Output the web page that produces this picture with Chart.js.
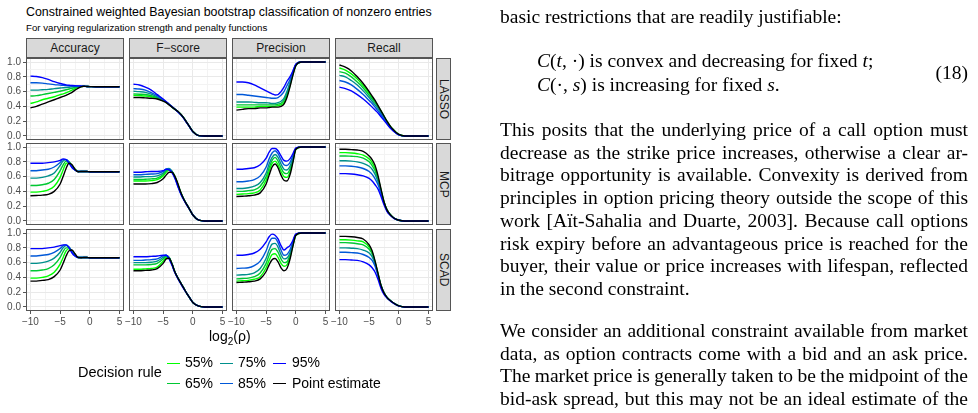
<!DOCTYPE html>
<html>
<head>
<meta charset="utf-8">
<script src="https://cdn.jsdelivr.net/npm/chart.js@4.4.1/dist/chart.umd.min.js"></script>
<style>
  body { margin: 0; background: #fff; }
  #page { position: relative; width: 978px; height: 413px; overflow: hidden; font-family: "Liberation Sans", Arial, sans-serif; }
  canvas { position: absolute; left: 0; top: 0; }
  .abs { position: absolute; white-space: nowrap; }
  .strip { position: absolute; box-sizing: border-box; background: #d9d9d9; border: 1px solid #555; color: #1a1a1a; font-size: 12px; display: flex; align-items: center; justify-content: center; }
  .strip.side { writing-mode: vertical-rl; }
  .tx { position: absolute; left: 500px; white-space: nowrap; font-family: "Liberation Serif", "Times New Roman", serif; font-size: 19.5px; line-height: 22px; color: #000; }
  .key { position: absolute; height: 0; border-top: 1.5px solid #000; }
</style>
</head>
<body>
<div id="page">
  <div class="abs" style="left:26px;top:5px;font-size:12.4px;color:#000">Constrained weighted Bayesian bootstrap classification of nonzero entries</div>
  <div class="abs" style="left:26px;top:22px;font-size:9.7px;color:#000">For varying regularization strength and penalty functions</div>
  <div id="strips"></div>
  <div id="charts"></div>
  <div class="abs" style="left:209px;top:328px;font-size:14px;color:#000">log<sub style="font-size:10px">2</sub>(ρ)</div>
  <div id="legend"></div>

  <div class="tx" style="top:6px">basic restrictions that are readily justifiable:</div>
  <div class="tx" style="top:50px;left:537px"><i>C</i>(<i>t</i>, ·) is convex and decreasing for fixed <i>t</i>;</div>
  <div class="tx" style="top:74px;left:537px"><i>C</i>(·, <i>s</i>) is increasing for fixed <i>s</i>.</div>
  <div class="tx" style="top:62px;left:auto;right:10px">(18)</div>
  <div class="tx just" style="top:119px">This posits that the underlying price of a call option must</div>
  <div class="tx just" style="top:141.7px">decrease as the strike price increases, otherwise a clear ar-</div>
  <div class="tx just" style="top:164.4px">bitrage opportunity is available. Convexity is derived from</div>
  <div class="tx just" style="top:187.1px">principles in option pricing theory outside the scope of this</div>
  <div class="tx just" style="top:209.8px">work [Aït-Sahalia and Duarte, 2003]. Because call options</div>
  <div class="tx just" style="top:232.5px">risk expiry before an advantageous price is reached for the</div>
  <div class="tx just" style="top:255.2px">buyer, their value or price increases with lifespan, reflected</div>
  <div class="tx" style="top:277.9px">in the second constraint.</div>
  <div class="tx just" style="top:320px">We consider an additional constraint available from market</div>
  <div class="tx just" style="top:342.7px">data, as option contracts come with a bid and an ask price.</div>
  <div class="tx just" style="top:365.4px">The market price is generally taken to be the midpoint of the</div>
  <div class="tx just" style="top:388.1px">bid-ask spread, but this may not be an ideal estimate of the</div>
</div>

<script>
// x positions (log2 rho) shared by every curve
const xs = [-10, -9, -8, -7, -6, -5, -4.5, -4, -3.5, -3, -2.5, -2, -1.5, -1, -0.5, 0, 1, 2, 5];

const rules = ['55%', '65%', '75%', '85%', '95%', 'Point estimate'];
const ruleColors = ['#00ff00', '#00c832', '#00908c', '#0058d8', '#0000ff', '#000000'];
const metrics = ['Accuracy', 'F\u2212score', 'Precision', 'Recall'];
const penalties = ['LASSO', 'MCP', 'SCAD'];

const xTicks = [-10, -7.5, -5, -2.5, 0, 2.5, 5];
const yTicks = [0, 0.1, 0.2, 0.3, 0.4, 0.5, 0.6, 0.7, 0.8, 0.9, 1.0];

// each panel: rows are 55%, 65%, 75%, 85%, 95%, point estimate
const lassoAccuracy = [
  [.44,.46,.49,.51,.53,.56,.57,.585,.60,.62,.64,.655,.668,.672,.67,.668,.665,.665,.665],
  [.54,.545,.56,.575,.59,.605,.615,.625,.635,.645,.655,.665,.67,.672,.67,.668,.665,.665,.665],
  [.62,.62,.625,.63,.64,.648,.652,.656,.66,.665,.668,.67,.672,.672,.67,.668,.665,.665,.665],
  [.72,.72,.715,.705,.695,.688,.684,.681,.679,.677,.676,.675,.674,.672,.67,.668,.665,.665,.665],
  [.81,.805,.79,.765,.735,.71,.70,.692,.686,.682,.679,.677,.675,.673,.67,.668,.665,.665,.665],
  [.38,.40,.43,.46,.49,.52,.535,.55,.57,.59,.62,.645,.665,.672,.67,.668,.665,.665,.665]
];
const lassoFscore = [
  [.55,.545,.54,.53,.51,.475,.455,.425,.39,.36,.33,.29,.24,.18,.12,.06,.005,0,0],
  [.57,.565,.56,.545,.52,.48,.455,.425,.39,.36,.33,.29,.24,.18,.12,.06,.005,0,0],
  [.605,.60,.59,.565,.53,.485,.46,.43,.395,.36,.33,.29,.24,.18,.12,.06,.005,0,0],
  [.64,.635,.62,.585,.545,.49,.46,.43,.395,.36,.325,.285,.235,.18,.12,.06,.005,0,0],
  [.70,.69,.66,.62,.56,.50,.465,.43,.395,.36,.325,.285,.235,.175,.115,.055,.005,0,0],
  [.52,.52,.515,.51,.50,.47,.45,.42,.39,.36,.33,.29,.24,.18,.12,.06,.005,0,0]
];
const lassoPrecision = [
  [.39,.39,.39,.39,.40,.40,.40,.40,.40,.41,.42,.45,.54,.68,.83,.95,1,1,1],
  [.42,.42,.42,.42,.42,.42,.42,.42,.42,.43,.44,.48,.57,.70,.84,.96,1,1,1],
  [.46,.46,.46,.455,.45,.45,.445,.44,.44,.45,.47,.51,.60,.72,.85,.96,1,1,1],
  [.56,.56,.55,.54,.53,.52,.515,.51,.51,.52,.55,.60,.68,.76,.87,.97,1,1,1],
  [.73,.73,.72,.69,.65,.61,.59,.57,.555,.56,.60,.66,.74,.80,.88,.97,1,1,1],
  [.35,.36,.37,.37,.38,.38,.385,.39,.39,.39,.40,.43,.52,.66,.82,.95,1,1,1]
];
const lassoRecall = [
  [.92,.89,.84,.77,.68,.58,.52,.47,.40,.34,.27,.20,.14,.09,.05,.02,0,0,0],
  [.87,.85,.80,.73,.65,.55,.50,.45,.39,.33,.26,.19,.13,.09,.05,.02,0,0,0],
  [.82,.80,.75,.69,.61,.52,.47,.42,.37,.31,.25,.18,.13,.08,.045,.015,0,0,0],
  [.75,.73,.69,.63,.56,.48,.44,.39,.34,.29,.23,.17,.12,.08,.04,.015,0,0,0],
  [.66,.64,.61,.56,.50,.43,.39,.35,.31,.26,.21,.16,.11,.07,.04,.015,0,0,0],
  [.96,.93,.88,.80,.71,.60,.54,.48,.41,.34,.27,.20,.14,.09,.05,.02,0,0,0]
];

const mcpAccuracy = [
  [.39,.39,.40,.42,.47,.59,.69,.78,.79,.75,.70,.67,.67,.67,.67,.665,.665,.665,.665],
  [.48,.48,.49,.51,.56,.68,.76,.81,.80,.74,.70,.67,.67,.67,.67,.665,.665,.665,.665],
  [.58,.58,.59,.61,.65,.75,.81,.83,.80,.74,.69,.67,.67,.67,.67,.665,.665,.665,.665],
  [.68,.68,.69,.70,.73,.79,.83,.83,.79,.73,.69,.67,.67,.67,.67,.665,.665,.665,.665],
  [.78,.78,.78,.79,.80,.82,.84,.83,.78,.72,.69,.67,.67,.67,.67,.665,.665,.665,.665],
  [.34,.345,.35,.36,.40,.50,.60,.71,.78,.76,.70,.665,.67,.67,.67,.665,.665,.665,.665]
];
const mcpFscore = [
  [.54,.54,.54,.545,.56,.61,.66,.69,.67,.60,.49,.38,.29,.22,.15,.08,.01,0,0],
  [.56,.56,.565,.57,.58,.63,.68,.70,.67,.59,.49,.37,.29,.22,.15,.08,.01,0,0],
  [.595,.595,.60,.60,.61,.65,.70,.71,.67,.59,.48,.37,.29,.22,.15,.08,.01,0,0],
  [.625,.625,.63,.635,.64,.67,.70,.70,.66,.58,.47,.37,.29,.22,.15,.08,.01,0,0],
  [.66,.66,.665,.67,.67,.68,.70,.69,.65,.57,.46,.36,.28,.21,.15,.08,.01,0,0],
  [.50,.50,.50,.505,.52,.57,.62,.66,.66,.60,.50,.38,.29,.22,.15,.08,.01,0,0]
];
const mcpPrecision = [
  [.36,.365,.37,.38,.42,.55,.67,.78,.81,.76,.67,.60,.59,.66,.81,.97,1,1,1],
  [.40,.40,.41,.42,.47,.60,.72,.82,.86,.81,.72,.65,.64,.70,.83,.97,1,1,1],
  [.44,.44,.45,.47,.52,.65,.77,.86,.90,.86,.77,.70,.69,.74,.85,.98,1,1,1],
  [.53,.53,.54,.56,.61,.73,.84,.92,.95,.91,.83,.76,.75,.79,.88,.98,1,1,1],
  [.70,.70,.71,.72,.76,.85,.93,.98,.98,.95,.88,.82,.81,.84,.91,.99,1,1,1],
  [.33,.335,.34,.35,.38,.50,.62,.73,.77,.72,.62,.55,.54,.62,.79,.97,1,1,1]
];
const mcpRecall = [
  [.925,.925,.92,.91,.89,.84,.79,.71,.58,.42,.26,.15,.09,.05,.025,.01,0,0,0],
  [.88,.88,.875,.87,.85,.80,.75,.68,.56,.41,.25,.15,.09,.05,.025,.01,0,0,0],
  [.815,.815,.81,.80,.78,.74,.70,.63,.53,.39,.25,.15,.09,.05,.025,.01,0,0,0],
  [.745,.745,.74,.73,.71,.67,.63,.57,.49,.37,.24,.14,.085,.05,.025,.01,0,0,0],
  [.64,.64,.635,.625,.61,.575,.54,.49,.43,.33,.22,.13,.08,.045,.02,.01,0,0,0],
  [.97,.97,.965,.96,.94,.88,.83,.75,.61,.43,.26,.15,.09,.05,.025,.01,0,0,0]
];

const scadAccuracy = [
  [.39,.39,.40,.42,.47,.58,.67,.76,.79,.76,.71,.67,.67,.67,.67,.665,.665,.665,.665],
  [.49,.49,.50,.52,.57,.67,.75,.80,.80,.75,.70,.67,.67,.67,.67,.665,.665,.665,.665],
  [.59,.59,.60,.62,.66,.74,.80,.83,.81,.75,.70,.67,.67,.67,.67,.665,.665,.665,.665],
  [.69,.69,.70,.71,.74,.79,.83,.84,.81,.74,.69,.67,.67,.67,.67,.665,.665,.665,.665],
  [.79,.79,.79,.80,.81,.83,.84,.84,.80,.73,.69,.67,.67,.67,.67,.665,.665,.665,.665],
  [.35,.35,.36,.37,.41,.50,.59,.69,.76,.77,.72,.67,.665,.67,.67,.665,.665,.665,.665]
];
const scadFscore = [
  [.51,.51,.515,.52,.54,.62,.67,.67,.58,.47,.39,.32,.25,.18,.12,.06,.01,0,0],
  [.57,.57,.57,.575,.59,.65,.69,.67,.58,.47,.39,.32,.25,.18,.12,.06,.01,0,0],
  [.60,.60,.60,.605,.62,.67,.70,.67,.58,.47,.39,.32,.25,.18,.12,.06,.01,0,0],
  [.63,.63,.635,.64,.65,.69,.70,.66,.57,.47,.39,.32,.25,.18,.12,.06,.01,0,0],
  [.68,.68,.68,.685,.69,.70,.70,.65,.56,.46,.38,.31,.24,.18,.12,.06,.01,0,0],
  [.49,.49,.495,.50,.52,.59,.65,.66,.58,.47,.39,.32,.25,.18,.12,.06,.01,0,0]
];
const scadPrecision = [
  [.35,.355,.36,.375,.41,.53,.63,.71,.72,.67,.59,.55,.57,.67,.83,.97,1,1,1],
  [.38,.385,.39,.41,.46,.59,.70,.78,.79,.74,.65,.60,.61,.70,.84,.97,1,1,1],
  [.43,.435,.44,.46,.52,.66,.77,.85,.86,.81,.71,.65,.66,.73,.86,.98,1,1,1],
  [.52,.525,.53,.56,.62,.76,.87,.93,.93,.87,.77,.70,.71,.77,.88,.98,1,1,1],
  [.70,.70,.71,.73,.78,.88,.95,.985,.97,.92,.83,.77,.80,.83,.90,.99,1,1,1],
  [.33,.335,.34,.35,.38,.48,.57,.64,.655,.61,.53,.49,.52,.64,.82,.97,1,1,1]
];
const scadRecall = [
  [.91,.91,.905,.895,.88,.81,.74,.61,.45,.29,.19,.13,.09,.06,.035,.015,0,0,0],
  [.87,.87,.865,.855,.84,.78,.72,.60,.44,.29,.19,.13,.09,.06,.035,.015,0,0,0],
  [.80,.80,.795,.79,.77,.73,.68,.58,.43,.29,.19,.13,.09,.06,.035,.015,0,0,0],
  [.74,.74,.735,.73,.71,.67,.63,.55,.42,.28,.185,.13,.09,.06,.035,.015,0,0,0],
  [.64,.64,.635,.63,.61,.57,.53,.47,.37,.25,.17,.12,.085,.055,.03,.01,0,0,0],
  [.955,.955,.95,.94,.92,.84,.76,.62,.45,.29,.19,.13,.09,.06,.035,.015,0,0,0]
];

const grid = [
  [lassoAccuracy, lassoFscore, lassoPrecision, lassoRecall],
  [mcpAccuracy, mcpFscore, mcpPrecision, mcpRecall],
  [scadAccuracy, scadFscore, scadPrecision, scadRecall]
];

// layout of the facet grid (pixels)
const colLeft = [26, 129, 232, 335];
const rowTop = [58, 143, 229];
const panelW = 98, panelH = 82;
const W = 978, H = 413;
const yAxisW = 26, xAxisH = 22;

const isMajorX = v => Math.abs(v % 5) < 1e-9;
const isMajorY = v => Math.abs(Math.round(v * 10) % 2) === 0;

const framePlugin = {
  id: 'frame',
  afterDraw(chart) {
    const a = chart.chartArea, ctx = chart.ctx;
    ctx.save();
    ctx.strokeStyle = '#555';
    ctx.lineWidth = 1;
    ctx.strokeRect(a.left + 0.5, a.top + 0.5, a.right - a.left - 1, a.bottom - a.top - 1);
    ctx.restore();
  }
};

function makePanel(r, c) {
  const cv = document.createElement('canvas');
  cv.width = W; cv.height = H;
  document.getElementById('charts').appendChild(cv);
  const showY = c === 0, showX = r === 2;
  const datasets = grid[r][c].map((vals, i) => ({
    label: rules[i],
    data: vals.map((v, j) => ({ x: xs[j], y: v })),
    borderColor: ruleColors[i],
    borderWidth: 1.4,
    pointRadius: 0,
    fill: false,
    cubicInterpolationMode: 'monotone',
    order: 5 - i
  }));
  const yw = showY ? yAxisW : 0, xh = showX ? xAxisH : 0;
  new Chart(cv, {
    type: 'line',
    data: { datasets },
    plugins: [framePlugin],
    options: {
      responsive: false,
      animation: false,
      events: [],
      layout: { padding: {
        left: colLeft[c] - yw, top: rowTop[r],
        right: W - colLeft[c] - panelW, bottom: H - rowTop[r] - panelH - xh
      } },
      plugins: { legend: { display: false }, tooltip: { enabled: false } },
      scales: {
        x: {
          type: 'linear', min: -10.75, max: 5.75, bounds: 'data',
          afterBuildTicks: s => { s.ticks = xTicks.map(v => ({ value: v })); },
          afterFit: s => { s.height = xh; },
          border: { display: false },
          grid: {
            color: ctx => isMajorX(ctx.tick.value) ? '#e9e9e9' : '#f3f3f3',
            lineWidth: 1,
            drawTicks: showX, tickLength: 3,
            tickColor: ctx => isMajorX(ctx.tick.value) ? '#555' : 'rgba(0,0,0,0)'
          },
          ticks: {
            display: showX, autoSkip: false, maxRotation: 0, minRotation: 0, padding: 2,
            color: '#4d4d4d', font: { family: 'Liberation Sans', size: 10 },
            callback: v => isMajorX(v) ? String(v).replace('-', '\u2212') : ''
          }
        },
        y: {
          type: 'linear', min: -0.055, max: 1.055, bounds: 'data',
          afterBuildTicks: s => { s.ticks = yTicks.map(v => ({ value: v })); },
          afterFit: s => { s.width = yw; },
          border: { display: false },
          grid: {
            color: ctx => isMajorY(ctx.tick.value) ? '#e9e9e9' : '#f3f3f3',
            lineWidth: 1,
            drawTicks: showY, tickLength: 3,
            tickColor: ctx => isMajorY(ctx.tick.value) ? '#555' : 'rgba(0,0,0,0)'
          },
          ticks: {
            display: showY, autoSkip: false, padding: 2,
            color: '#4d4d4d', font: { family: 'Liberation Sans', size: 10 },
            callback: v => isMajorY(v) ? v.toFixed(1) : ''
          }
        }
      }
    }
  });
}

// strips
const stripBox = document.getElementById('strips');
metrics.forEach((m, c) => {
  const d = document.createElement('div');
  d.className = 'strip';
  d.style.cssText = `left:${colLeft[c]}px;top:38px;width:${panelW}px;height:20px;`;
  d.textContent = m;
  stripBox.appendChild(d);
});
penalties.forEach((p, r) => {
  const d = document.createElement('div');
  d.className = 'strip side';
  d.style.cssText = `left:436px;top:${rowTop[r]}px;width:15px;height:${panelH}px;`;
  d.textContent = p;
  stripBox.appendChild(d);
});

for (let r = 0; r < 3; r++) for (let c = 0; c < 4; c++) makePanel(r, c);

// legend
const leg = document.getElementById('legend');
const legTitle = document.createElement('div');
legTitle.className = 'abs';
legTitle.style.cssText = 'left:78px;top:364px;font-size:14.5px;color:#000';
legTitle.textContent = 'Decision rule';
leg.appendChild(legTitle);
const legCols = [[167, 185], [220, 238], [273, 292]];
const legRows = [362.5, 383];
rules.forEach((name, i) => {
  const col = legCols[Math.floor(i / 2)], yy = legRows[i % 2];
  const k = document.createElement('div');
  k.className = 'key';
  k.style.cssText = `left:${col[0]}px;top:${yy}px;width:13px;border-top-color:${ruleColors[i]}`;
  leg.appendChild(k);
  const t = document.createElement('div');
  t.className = 'abs';
  t.style.cssText = `left:${col[1]}px;top:${yy - 8.5}px;font-size:14px;color:#000`;
  t.textContent = name;
  leg.appendChild(t);
});

// justify the paragraph lines to the column width
document.querySelectorAll('.tx.just').forEach(el => {
  const w = el.getBoundingClientRect().width;
  const spaces = (el.textContent.match(/ /g) || []).length;
  el.style.wordSpacing = ((468 - w) / spaces) + 'px';
});
</script>
</body>
</html>
